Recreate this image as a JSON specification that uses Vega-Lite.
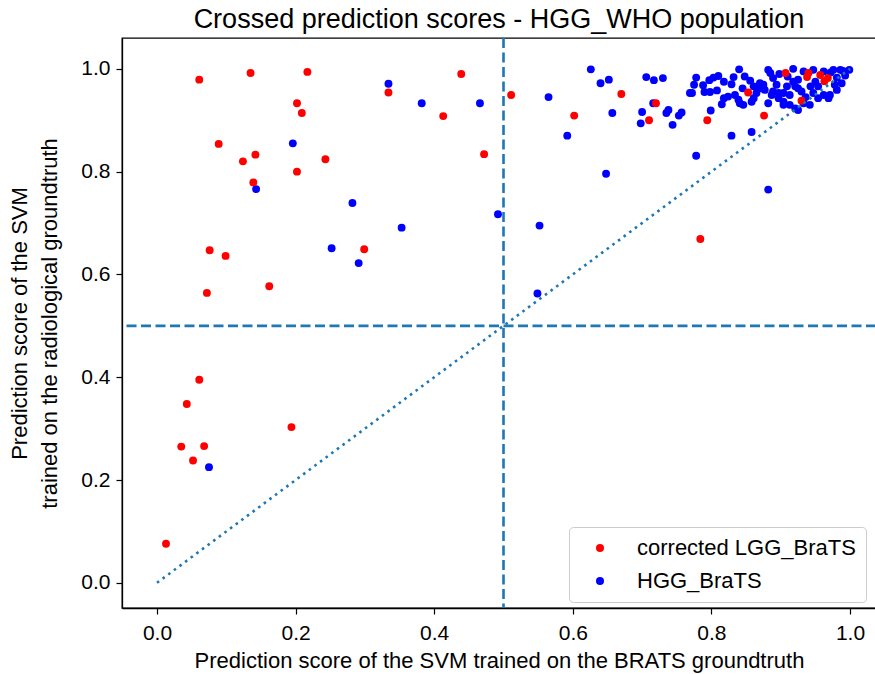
{
  "$schema": "https://vega.github.io/schema/vega-lite/v6.json",
  "width": 754,
  "height": 570,
  "autosize": "none",
  "padding": {"left": 122, "top": 38, "right": 0, "bottom": 66},
  "background": "white",
  "config": {
    "font": "Liberation Sans",
    "view": {"stroke": "black", "strokeWidth": 1.3},
    "axis": {
      "grid": false,
      "domain": true,
      "domainColor": "black",
      "domainWidth": 1.3,
      "tickColor": "black",
      "tickSize": 6,
      "tickWidth": 1.2,
      "labelColor": "black",
      "titleColor": "black",
      "labelFontSize": 21,
      "titleFontSize": 22,
      "titleFontWeight": "normal",
      "labelFont": "Liberation Sans",
      "titleFont": "Liberation Sans"
    },
    "legend": {
      "orient": "none",
      "legendX": 447,
      "legendY": 489,
      "strokeColor": "#cccccc",
      "fillColor": "white",
      "cornerRadius": 4,
      "padding": 10,
      "labelFontSize": 22,
      "labelLimit": 400,
      "labelColor": "black",
      "labelFont": "Liberation Sans",
      "symbolSize": 64,
      "symbolType": "circle",
      "symbolStrokeWidth": 0,
      "symbolOffset": 10,
      "labelOffset": 26,
      "rowPadding": 11
    }
  },
  "title": {
    "text": "Crossed prediction scores - HGG_WHO population",
    "fontSize": 27,
    "fontWeight": "normal",
    "color": "black",
    "font": "Liberation Sans",
    "anchor": "middle",
    "offset": 3
  },
  "datasets": {
    "pts": [
      {"x": 0.075, "y": 0.225, "g": "HGG_BraTS"},
      {"x": 0.143, "y": 0.766, "g": "HGG_BraTS"},
      {"x": 0.196, "y": 0.855, "g": "HGG_BraTS"},
      {"x": 0.252, "y": 0.651, "g": "HGG_BraTS"},
      {"x": 0.282, "y": 0.739, "g": "HGG_BraTS"},
      {"x": 0.291, "y": 0.622, "g": "HGG_BraTS"},
      {"x": 0.334, "y": 0.971, "g": "HGG_BraTS"},
      {"x": 0.353, "y": 0.691, "g": "HGG_BraTS"},
      {"x": 0.382, "y": 0.933, "g": "HGG_BraTS"},
      {"x": 0.466, "y": 0.933, "g": "HGG_BraTS"},
      {"x": 0.492, "y": 0.717, "g": "HGG_BraTS"},
      {"x": 0.549, "y": 0.563, "g": "HGG_BraTS"},
      {"x": 0.552, "y": 0.695, "g": "HGG_BraTS"},
      {"x": 0.565, "y": 0.945, "g": "HGG_BraTS"},
      {"x": 0.592, "y": 0.870, "g": "HGG_BraTS"},
      {"x": 0.626, "y": 0.999, "g": "HGG_BraTS"},
      {"x": 0.640, "y": 0.972, "g": "HGG_BraTS"},
      {"x": 0.652, "y": 0.979, "g": "HGG_BraTS"},
      {"x": 0.657, "y": 0.914, "g": "HGG_BraTS"},
      {"x": 0.648, "y": 0.796, "g": "HGG_BraTS"},
      {"x": 0.698, "y": 0.894, "g": "HGG_BraTS"},
      {"x": 0.700, "y": 0.916, "g": "HGG_BraTS"},
      {"x": 0.706, "y": 0.984, "g": "HGG_BraTS"},
      {"x": 0.717, "y": 0.978, "g": "HGG_BraTS"},
      {"x": 0.730, "y": 0.982, "g": "HGG_BraTS"},
      {"x": 0.716, "y": 0.933, "g": "HGG_BraTS"},
      {"x": 0.735, "y": 0.914, "g": "HGG_BraTS"},
      {"x": 0.738, "y": 0.920, "g": "HGG_BraTS"},
      {"x": 0.744, "y": 0.891, "g": "HGG_BraTS"},
      {"x": 0.753, "y": 0.909, "g": "HGG_BraTS"},
      {"x": 0.757, "y": 0.915, "g": "HGG_BraTS"},
      {"x": 0.769, "y": 0.953, "g": "HGG_BraTS"},
      {"x": 0.778, "y": 0.831, "g": "HGG_BraTS"},
      {"x": 0.799, "y": 0.919, "g": "HGG_BraTS"},
      {"x": 0.829, "y": 0.870, "g": "HGG_BraTS"},
      {"x": 0.858, "y": 0.877, "g": "HGG_BraTS"},
      {"x": 0.882, "y": 0.765, "g": "HGG_BraTS"},
      {"x": 0.778, "y": 0.983, "g": "HGG_BraTS"},
      {"x": 0.775, "y": 0.969, "g": "HGG_BraTS"},
      {"x": 0.772, "y": 0.953, "g": "HGG_BraTS"},
      {"x": 0.788, "y": 0.968, "g": "HGG_BraTS"},
      {"x": 0.790, "y": 0.955, "g": "HGG_BraTS"},
      {"x": 0.798, "y": 0.955, "g": "HGG_BraTS"},
      {"x": 0.797, "y": 0.978, "g": "HGG_BraTS"},
      {"x": 0.803, "y": 0.983, "g": "HGG_BraTS"},
      {"x": 0.810, "y": 0.986, "g": "HGG_BraTS"},
      {"x": 0.840, "y": 0.999, "g": "HGG_BraTS"},
      {"x": 0.832, "y": 0.984, "g": "HGG_BraTS"},
      {"x": 0.829, "y": 0.970, "g": "HGG_BraTS"},
      {"x": 0.818, "y": 0.943, "g": "HGG_BraTS"},
      {"x": 0.824, "y": 0.946, "g": "HGG_BraTS"},
      {"x": 0.834, "y": 0.949, "g": "HGG_BraTS"},
      {"x": 0.839, "y": 0.940, "g": "HGG_BraTS"},
      {"x": 0.846, "y": 0.930, "g": "HGG_BraTS"},
      {"x": 0.815, "y": 0.931, "g": "HGG_BraTS"},
      {"x": 0.856, "y": 0.977, "g": "HGG_BraTS"},
      {"x": 0.841, "y": 0.933, "g": "HGG_BraTS"},
      {"x": 0.858, "y": 0.936, "g": "HGG_BraTS"},
      {"x": 0.882, "y": 0.933, "g": "HGG_BraTS"},
      {"x": 0.904, "y": 0.936, "g": "HGG_BraTS"},
      {"x": 0.913, "y": 0.930, "g": "HGG_BraTS"},
      {"x": 0.925, "y": 0.920, "g": "HGG_BraTS"},
      {"x": 0.861, "y": 0.966, "g": "HGG_BraTS"},
      {"x": 0.870, "y": 0.962, "g": "HGG_BraTS"},
      {"x": 0.865, "y": 0.953, "g": "HGG_BraTS"},
      {"x": 0.877, "y": 0.959, "g": "HGG_BraTS"},
      {"x": 0.875, "y": 0.969, "g": "HGG_BraTS"},
      {"x": 0.885, "y": 0.992, "g": "HGG_BraTS"},
      {"x": 0.889, "y": 0.982, "g": "HGG_BraTS"},
      {"x": 0.887, "y": 0.949, "g": "HGG_BraTS"},
      {"x": 0.897, "y": 0.953, "g": "HGG_BraTS"},
      {"x": 0.861, "y": 0.943, "g": "HGG_BraTS"},
      {"x": 0.870, "y": 0.972, "g": "HGG_BraTS"},
      {"x": 0.882, "y": 0.998, "g": "HGG_BraTS"},
      {"x": 0.918, "y": 1.000, "g": "HGG_BraTS"},
      {"x": 0.947, "y": 0.998, "g": "HGG_BraTS"},
      {"x": 0.976, "y": 0.998, "g": "HGG_BraTS"},
      {"x": 0.990, "y": 0.996, "g": "HGG_BraTS"},
      {"x": 0.999, "y": 0.998, "g": "HGG_BraTS"},
      {"x": 0.962, "y": 0.995, "g": "HGG_BraTS"},
      {"x": 0.933, "y": 0.995, "g": "HGG_BraTS"},
      {"x": 0.925, "y": 0.979, "g": "HGG_BraTS"},
      {"x": 0.981, "y": 0.983, "g": "HGG_BraTS"},
      {"x": 0.993, "y": 0.987, "g": "HGG_BraTS"},
      {"x": 0.894, "y": 0.969, "g": "HGG_BraTS"},
      {"x": 0.909, "y": 0.966, "g": "HGG_BraTS"},
      {"x": 0.921, "y": 0.966, "g": "HGG_BraTS"},
      {"x": 0.943, "y": 0.966, "g": "HGG_BraTS"},
      {"x": 0.954, "y": 0.966, "g": "HGG_BraTS"},
      {"x": 0.978, "y": 0.969, "g": "HGG_BraTS"},
      {"x": 0.988, "y": 0.972, "g": "HGG_BraTS"},
      {"x": 0.889, "y": 0.956, "g": "HGG_BraTS"},
      {"x": 0.904, "y": 0.953, "g": "HGG_BraTS"},
      {"x": 0.913, "y": 0.949, "g": "HGG_BraTS"},
      {"x": 0.930, "y": 0.956, "g": "HGG_BraTS"},
      {"x": 0.947, "y": 0.953, "g": "HGG_BraTS"},
      {"x": 0.962, "y": 0.949, "g": "HGG_BraTS"},
      {"x": 0.981, "y": 0.959, "g": "HGG_BraTS"},
      {"x": 0.971, "y": 0.949, "g": "HGG_BraTS"},
      {"x": 0.897, "y": 0.943, "g": "HGG_BraTS"},
      {"x": 0.904, "y": 0.930, "g": "HGG_BraTS"},
      {"x": 0.933, "y": 0.933, "g": "HGG_BraTS"},
      {"x": 0.942, "y": 0.930, "g": "HGG_BraTS"},
      {"x": 0.954, "y": 0.943, "g": "HGG_BraTS"},
      {"x": 0.969, "y": 0.943, "g": "HGG_BraTS"},
      {"x": 0.921, "y": 0.923, "g": "HGG_BraTS"},
      {"x": 0.898, "y": 0.990, "g": "HGG_BraTS"},
      {"x": 0.910, "y": 0.985, "g": "HGG_BraTS"},
      {"x": 0.918, "y": 0.975, "g": "HGG_BraTS"},
      {"x": 0.925, "y": 0.962, "g": "HGG_BraTS"},
      {"x": 0.936, "y": 0.945, "g": "HGG_BraTS"},
      {"x": 0.950, "y": 0.975, "g": "HGG_BraTS"},
      {"x": 0.972, "y": 0.993, "g": "HGG_BraTS"},
      {"x": 0.986, "y": 0.998, "g": "HGG_BraTS"},
      {"x": 0.848, "y": 0.985, "g": "HGG_BraTS"},
      {"x": 0.818, "y": 0.975, "g": "HGG_BraTS"},
      {"x": 0.845, "y": 0.962, "g": "HGG_BraTS"},
      {"x": 0.808, "y": 0.958, "g": "HGG_BraTS"},
      {"x": 0.013, "y": 0.076, "g": "corrected LGG_BraTS"},
      {"x": 0.035, "y": 0.265, "g": "corrected LGG_BraTS"},
      {"x": 0.068, "y": 0.266, "g": "corrected LGG_BraTS"},
      {"x": 0.052, "y": 0.238, "g": "corrected LGG_BraTS"},
      {"x": 0.043, "y": 0.348, "g": "corrected LGG_BraTS"},
      {"x": 0.061, "y": 0.395, "g": "corrected LGG_BraTS"},
      {"x": 0.194, "y": 0.303, "g": "corrected LGG_BraTS"},
      {"x": 0.072, "y": 0.564, "g": "corrected LGG_BraTS"},
      {"x": 0.162, "y": 0.577, "g": "corrected LGG_BraTS"},
      {"x": 0.076, "y": 0.647, "g": "corrected LGG_BraTS"},
      {"x": 0.099, "y": 0.636, "g": "corrected LGG_BraTS"},
      {"x": 0.299, "y": 0.649, "g": "corrected LGG_BraTS"},
      {"x": 0.061, "y": 0.979, "g": "corrected LGG_BraTS"},
      {"x": 0.135, "y": 0.992, "g": "corrected LGG_BraTS"},
      {"x": 0.217, "y": 0.994, "g": "corrected LGG_BraTS"},
      {"x": 0.202, "y": 0.933, "g": "corrected LGG_BraTS"},
      {"x": 0.209, "y": 0.914, "g": "corrected LGG_BraTS"},
      {"x": 0.089, "y": 0.854, "g": "corrected LGG_BraTS"},
      {"x": 0.142, "y": 0.833, "g": "corrected LGG_BraTS"},
      {"x": 0.124, "y": 0.820, "g": "corrected LGG_BraTS"},
      {"x": 0.243, "y": 0.824, "g": "corrected LGG_BraTS"},
      {"x": 0.202, "y": 0.800, "g": "corrected LGG_BraTS"},
      {"x": 0.139, "y": 0.779, "g": "corrected LGG_BraTS"},
      {"x": 0.334, "y": 0.954, "g": "corrected LGG_BraTS"},
      {"x": 0.439, "y": 0.990, "g": "corrected LGG_BraTS"},
      {"x": 0.413, "y": 0.908, "g": "corrected LGG_BraTS"},
      {"x": 0.472, "y": 0.834, "g": "corrected LGG_BraTS"},
      {"x": 0.511, "y": 0.949, "g": "corrected LGG_BraTS"},
      {"x": 0.602, "y": 0.909, "g": "corrected LGG_BraTS"},
      {"x": 0.670, "y": 0.951, "g": "corrected LGG_BraTS"},
      {"x": 0.720, "y": 0.933, "g": "corrected LGG_BraTS"},
      {"x": 0.710, "y": 0.900, "g": "corrected LGG_BraTS"},
      {"x": 0.784, "y": 0.669, "g": "corrected LGG_BraTS"},
      {"x": 0.794, "y": 0.900, "g": "corrected LGG_BraTS"},
      {"x": 0.876, "y": 0.909, "g": "corrected LGG_BraTS"},
      {"x": 0.853, "y": 0.954, "g": "corrected LGG_BraTS"},
      {"x": 0.930, "y": 0.938, "g": "corrected LGG_BraTS"},
      {"x": 0.907, "y": 0.992, "g": "corrected LGG_BraTS"},
      {"x": 0.940, "y": 0.992, "g": "corrected LGG_BraTS"},
      {"x": 0.938, "y": 0.984, "g": "corrected LGG_BraTS"},
      {"x": 0.957, "y": 0.988, "g": "corrected LGG_BraTS"},
      {"x": 0.968, "y": 0.982, "g": "corrected LGG_BraTS"},
      {"x": 0.963, "y": 0.976, "g": "corrected LGG_BraTS"}
    ],
    "diag": [
      {"x": 0, "y": 0},
      {"x": 1, "y": 1}
    ],
    "one": [
      {"v": 0.5}
    ]
  },
  "layer": [
    {
      "data": {"name": "pts"},
      "mark": {"type": "circle", "size": 62, "opacity": 1},
      "encoding": {
        "x": {
          "field": "x", "type": "quantitative",
          "scale": {"domain": [-0.0505, 1.0375], "nice": false, "zero": false},
          "axis": {"values": [0, 0.2, 0.4, 0.6, 0.8, 1.0], "format": ".1f", "labelPadding": 8, "titlePadding": 7,
                   "title": "Prediction score of the SVM trained on the BRATS groundtruth"}
        },
        "y": {
          "field": "y", "type": "quantitative",
          "scale": {"domain": [-0.049, 1.06], "nice": false, "zero": false},
          "axis": {"values": [0, 0.2, 0.4, 0.6, 0.8, 1.0], "format": ".1f", "labelPadding": 6, "titlePadding": 19, "titleLineHeight": 30,
                   "title": ["Prediction score of the SVM", "trained on the radiological groundtruth"]}
        },
        "color": {
          "field": "g", "type": "nominal",
          "scale": {"domain": ["corrected LGG_BraTS", "HGG_BraTS"], "range": ["#ff0000", "#0000ff"]},
          "legend": {"title": null}
        }
      }
    },
    {
      "data": {"name": "one"},
      "mark": {"type": "rule", "color": "#1f77b4", "strokeWidth": 2.6, "strokeDash": [10, 4.5]},
      "encoding": {"x": {"field": "v", "type": "quantitative"}}
    },
    {
      "data": {"name": "one"},
      "mark": {"type": "rule", "color": "#1f77b4", "strokeWidth": 2.6, "strokeDash": [10, 4.5]},
      "encoding": {"y": {"field": "v", "type": "quantitative"}}
    },
    {
      "data": {"name": "diag"},
      "mark": {"type": "line", "color": "#1f77b4", "strokeWidth": 2.6, "strokeDash": [2.6, 4.4]},
      "encoding": {
        "x": {"field": "x", "type": "quantitative"},
        "y": {"field": "y", "type": "quantitative"}
      }
    }
  ]
}
